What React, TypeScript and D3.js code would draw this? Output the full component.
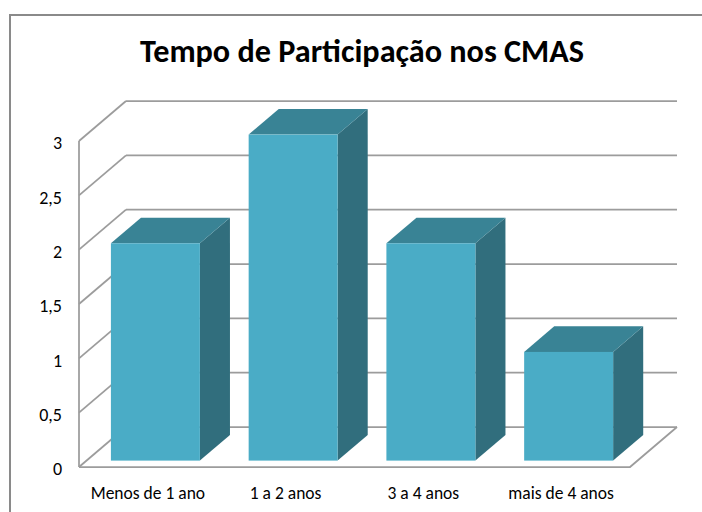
import React, { useEffect, useRef } from "react";
import * as d3 from "d3";

// dados do gráfico
const categories = ["Menos de 1 ano", "1 a 2 anos", "3 a 4 anos", "mais de 4 anos"];
const values = [2, 3, 2, 1];
const yTicks = [0, 0.5, 1, 1.5, 2, 2.5, 3];
const yTickLabels = ["0", "0,5", "1", "1,5", "2", "2,5", "3"];
const title = "Tempo de Participação nos CMAS";

const W = 702;
const H = 512;
const FONT = "Carlito, Calibri, Lato, 'Open Sans', sans-serif";

const App = () => {
  const svgRef = useRef<SVGSVGElement>(null);

  useEffect(() => {
    const svg = d3.select(svgRef.current);
    svg.selectAll("*").remove();

    // plano frontal + profundidade 3D
    const left = 79;
    const right = 630;
    const depthX = 47;
    const depthY = -40;

    const y = d3.scaleLinear().domain([0, 3]).range([467, 141]);
    const x = d3
      .scaleBand()
      .domain(categories)
      .range([left, right])
      .paddingInner(0.354)
      .paddingOuter(0.177);

    // profundidade da barra (fração da parede)
    const d0 = 0.16;
    const d1 = 0.8;

    const gridColor = "#9c9c9c";

    // moldura
    svg
      .append("rect")
      .attr("x", 10)
      .attr("y", 15)
      .attr("width", 720)
      .attr("height", 520)
      .attr("fill", "#fff")
      .attr("stroke", "#8a8a8a")
      .attr("stroke-width", 2);

    // título
    svg
      .append("text")
      .attr("x", 362)
      .attr("y", 62)
      .attr("text-anchor", "middle")
      .attr("font-family", FONT)
      .attr("font-weight", "bold")
      .attr("font-size", 32)
      .attr("textLength", 444)
      .attr("lengthAdjust", "spacingAndGlyphs")
      .attr("fill", "#000")
      .text(title);

    const grid = svg.append("g").attr("stroke", gridColor).attr("stroke-width", 1.75).attr("fill", "none");

    // parede do fundo
    grid
      .selectAll(".back")
      .data(yTicks)
      .enter()
      .append("line")
      .attr("x1", left + depthX)
      .attr("x2", right + depthX)
      .attr("y1", (d) => y(d) + depthY)
      .attr("y2", (d) => y(d) + depthY);

    // parede lateral
    grid
      .selectAll(".side")
      .data(yTicks)
      .enter()
      .append("line")
      .attr("x1", left)
      .attr("x2", left + depthX)
      .attr("y1", (d) => y(d))
      .attr("y2", (d) => y(d) + depthY);

    grid
      .append("line")
      .attr("x1", left)
      .attr("x2", left)
      .attr("y1", y(3))
      .attr("y2", y(0));

    // piso
    grid
      .append("path")
      .attr(
        "d",
        `M${left},${y(0)} L${right},${y(0)} L${right + depthX},${y(0) + depthY}`
      );

    // rótulos eixo Y
    svg
      .selectAll(".ytick")
      .data(yTicks)
      .enter()
      .append("text")
      .attr("x", 62)
      .attr("y", (d) => y(d) + 2)
      .attr("dy", "0.35em")
      .attr("text-anchor", "end")
      .attr("font-family", FONT)
      .attr("font-size", 18)
      .attr("fill", "#000")
      .text((d, i) => yTickLabels[i]);

    // barras
    const bars = svg
      .selectAll(".bar")
      .data(values)
      .enter()
      .append("g")
      .attr("class", "bar");

    const bw = x.bandwidth();
    const fx = (i: number) => (x(categories[i]) as number) + depthX * d0;
    const fdy = depthY * d0;
    const ddx = depthX * (d1 - d0);
    const ddy = depthY * (d1 - d0);

    // lado
    bars
      .append("path")
      .attr("fill", "#316e7d")
      .attr("d", (d, i) => {
        const x1 = fx(i) + bw;
        const yt = y(d) + fdy;
        const yb = y(0) + fdy;
        return `M${x1},${yt} L${x1 + ddx},${yt + ddy} L${x1 + ddx},${yb + ddy} L${x1},${yb} Z`;
      });

    // topo
    bars
      .append("path")
      .attr("fill", "#398395")
      .attr("d", (d, i) => {
        const x0 = fx(i);
        const yt = y(d) + fdy;
        return `M${x0},${yt} L${x0 + ddx},${yt + ddy} L${x0 + bw + ddx},${yt + ddy} L${x0 + bw},${yt} Z`;
      });

    // frente
    bars
      .append("rect")
      .attr("fill", "#4aacc6")
      .attr("x", (d, i) => fx(i))
      .attr("y", (d) => y(d) + fdy)
      .attr("width", bw)
      .attr("height", (d) => y(0) - y(d));

    // rótulos categorias
    svg
      .selectAll(".xlabel")
      .data(categories)
      .enter()
      .append("text")
      .attr("x", (d) => (x(d) as number) + bw / 2)
      .attr("y", 499)
      .attr("text-anchor", "middle")
      .attr("font-family", FONT)
      .attr("font-size", 17.5)
      .attr("fill", "#000")
      .text((d) => d);
  }, []);

  return (
    <svg
      ref={svgRef}
      width={W}
      height={H}
      style={{ position: "absolute", left: 0, top: 0, background: "#fff" }}
    />
  );
};

export default App;
